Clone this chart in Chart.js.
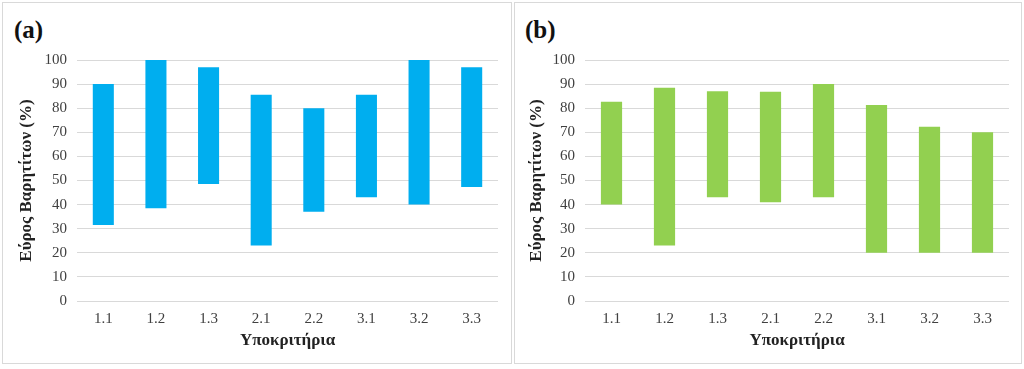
<!DOCTYPE html>
<html>
<head>
<meta charset="utf-8">
<script src="https://cdn.jsdelivr.net/npm/chart.js@4.4.1/dist/chart.umd.min.js"></script>
<style>
  html, body { margin: 0; padding: 0; background: #fff; }
  body { width: 1024px; height: 369px; position: relative; overflow: hidden; }
  .panel { position: absolute; border: 1px solid #d9d9d9; box-sizing: border-box; }
  .panel canvas { position: absolute; left: 0; top: 0; }
  .tag { position: absolute; font-family: "Liberation Serif", serif; font-weight: bold; font-size: 25px; color: #111; line-height: 1; }
</style>
</head>
<body>
<div class="panel" id="pa" style="left:2px; top:2px; width:510px; height:362px;">
  <div class="tag" style="left:11px; top:14px;">(a)</div>
  <canvas id="ca"></canvas>
</div>
<div class="panel" id="pb" style="left:514px; top:2px; width:508px; height:362px;">
  <div class="tag" style="left:10px; top:14px;">(b)</div>
  <canvas id="cb"></canvas>
</div>
<script>
const categories = ['1.1', '1.2', '1.3', '2.1', '2.2', '3.1', '3.2', '3.3'];
const lowA  = [31.5, 38.5, 48.5, 23, 37, 43, 40, 47.3];
const highA = [90, 100, 97, 85.6, 80, 85.6, 100, 97];
const lowB  = [40, 23, 43, 41, 43, 20, 20, 20];
const highB = [82.7, 88.5, 87, 86.8, 90, 81.3, 72.3, 70];
const yTicks = [0, 10, 20, 30, 40, 50, 60, 70, 80, 90, 100];
const yTitle = 'Εύρος Βαρητίτων (%)';
const xTitle = 'Υποκριτήρια';

function makeChart(id, low, high, color, yW, titlePad, rightPad) {
  const ctx = document.getElementById(id);
  const serif = '"Liberation Serif", "Times New Roman", serif';
  return new Chart(ctx, {
    type: 'bar',
    data: {
      labels: categories,
      datasets: [{
        data: low.map((l, i) => [l, high[i]]),
        backgroundColor: color,
        borderWidth: 0,
        barPercentage: 0.8,
        categoryPercentage: 0.5
      }]
    },
    options: {
      responsive: false,
      animation: false,
      devicePixelRatio: 1,
      layout: { padding: { left: 0, right: rightPad, top: 57, bottom: 0 } },
      plugins: { legend: { display: false }, tooltip: { enabled: false } },
      scales: {
        x: {
          grid: { display: false, drawTicks: false },
          border: { display: false },
          ticks: { color: '#404040', font: { family: serif, size: 15 }, padding: 9 },
          title: { display: true, text: xTitle, color: '#222', font: { family: serif, size: 17, weight: 'bold' }, padding: { top: 0, bottom: 12 } },
          afterFit: s => { s.height = 62; }
        },
        y: {
          min: 0, max: 100,
          afterBuildTicks: s => { s.ticks = yTicks.map(v => ({ value: v })); },
          grid: { color: '#d9d9d9', lineWidth: 1, drawTicks: false },
          border: { display: false },
          ticks: { color: '#404040', font: { family: serif, size: 15 }, padding: 10 },
          title: { display: true, text: yTitle, color: '#222', font: { family: serif, size: 17, weight: 'bold' }, padding: { top: titlePad, bottom: 0 } },
          afterFit: s => { s.width = yW; }
        }
      }
    }
  });
}

const ca = document.getElementById('ca');
ca.width = 508; ca.height = 360;
const cb = document.getElementById('cb');
cb.width = 506; cb.height = 360;
makeChart('ca', lowA, highA, '#00aeef', 74, 13, 13);
makeChart('cb', lowB, highB, '#92d050', 70, 11, 12);
</script>
</body>
</html>
